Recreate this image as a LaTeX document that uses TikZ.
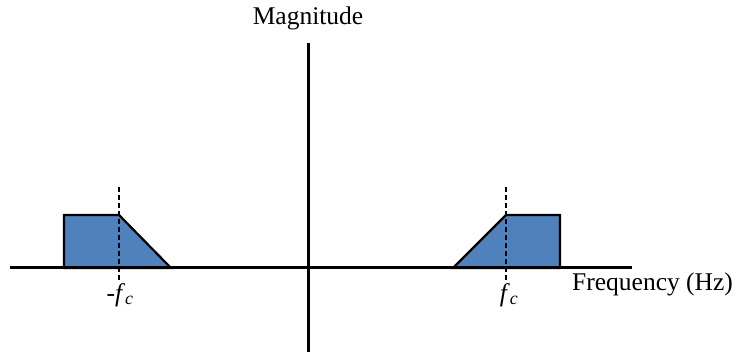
\documentclass[tikz,border=0pt]{standalone}
\usepackage{fontspec}
\setmainfont{Liberation Serif}
\begin{document}
\begin{tikzpicture}[x=1pt,y=-1pt,
  axis/.style={line width=3pt},
  band/.style={fill=bandblue, draw=black, line width=2.2pt, line join=miter},
  guide/.style={line width=1.6pt, dash pattern=on 5pt off 3pt},
  lbl/.style={font=\fontsize{25.5}{28}\selectfont, inner sep=0pt}]
\definecolor{bandblue}{HTML}{4F81BD}
\useasboundingbox (0,0) rectangle (740,355);
% axes endpoints
\coordinate (xl) at (10,268);
\coordinate (xr) at (632,268);
\coordinate (yt) at (308,43);
\coordinate (yb) at (308,352);
% left band
\coordinate (l1) at (64,268);
\coordinate (l2) at (64,215);
\coordinate (l3) at (119,215);
\coordinate (l4) at (171,268);
% right band
\coordinate (r1) at (453,268);
\coordinate (r2) at (506,215);
\coordinate (r3) at (560,215);
\coordinate (r4) at (560,268);
% dashed guides
\coordinate (gl1) at (119,187);
\coordinate (gl2) at (119,282);
\coordinate (gr1) at (506,187);
\coordinate (gr2) at (506,282);
\draw[band] (l1) -- (l2) -- (l3) -- (l4) -- cycle;
\draw[band] (r1) -- (r2) -- (r3) -- (r4) -- cycle;
\draw[axis] (xl) -- (xr);
\draw[axis] (yt) -- (yb);
\draw[guide] (gl1) -- (gl2);
\draw[guide] (gr1) -- (gr2);
\node[lbl] (mag) at (308,18) {Magnitude};
\node[lbl, anchor=west] (freq) at (572,284) {Frequency (Hz)};
\node[lbl] (nfc) at (120,295) {-\textit{f}\textsubscript{\textit{c}}};
\node[lbl] (pfc) at (509,295) {\textit{f}\textsubscript{\textit{c}}};
\end{tikzpicture}
\end{document}
